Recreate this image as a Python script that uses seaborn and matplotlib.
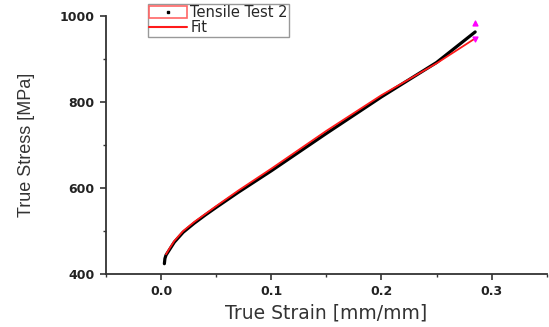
import numpy as np
import pandas as pd
import seaborn as sns
import matplotlib.pyplot as plt
from matplotlib.patches import Rectangle
from matplotlib.lines import Line2D
from matplotlib.legend_handler import HandlerTuple

# test data
strain = [0.003, 0.0035, 0.0045, 0.008, 0.012, 0.02, 0.03, 0.04, 0.05,
          0.07, 0.1, 0.15, 0.2, 0.25, 0.285]
stress = [424, 436, 444, 458, 474, 497, 518, 537, 555,
          590, 640, 727, 812, 892, 963]

# fit curve
fit_strain = [0.0045, 0.008, 0.012, 0.02, 0.03, 0.05, 0.07, 0.1, 0.15, 0.2, 0.25, 0.285]
fit_stress = [446, 461, 477, 500, 521, 558, 594, 645, 733, 816, 890, 948]

# error markers at the end point
err_x = [0.285, 0.285]
err_y = [984, 947]

sns.set_style('ticks')
plt.rcParams['font.family'] = ['Liberation Sans', 'DejaVu Sans']

fig = plt.figure(figsize=(5.49, 3.27), dpi=100)
ax = fig.add_axes([0.193, 0.162, 0.803, 0.789])

df = pd.DataFrame({'x': strain, 'y': stress})
fit = pd.DataFrame({'x': fit_strain, 'y': fit_stress})
sns.lineplot(data=df, x='x', y='y', color='black', lw=2.3, sort=False, ax=ax)
sns.lineplot(data=fit, x='x', y='y', color='#ff1a1a', lw=1.3, sort=False, ax=ax)
ax.scatter(err_x[:1], err_y[:1], marker='^', s=12, color='#ff00ff', zorder=5)
ax.scatter(err_x[1:], err_y[1:], marker='v', s=12, color='#ff00ff', zorder=5)

ax.set_xlim(-0.05, 0.35)
ax.set_ylim(400, 1000)
ax.set_xticks([0.0, 0.1, 0.2, 0.3])
ax.set_xticklabels(['0.0', '0.1', '0.2', '0.3'])
ax.set_xticks([-0.05, 0.05, 0.15, 0.25, 0.35], minor=True)
ax.set_yticks([400, 600, 800, 1000])
ax.set_yticks([500, 700, 900], minor=True)
ax.tick_params(which='major', length=4, width=1.2, direction='out', pad=4,
               colors='#333333', labelcolor='#222222')
ax.tick_params(which='minor', length=2.5, width=1.0, direction='out', colors='#333333')
for lbl in ax.get_xticklabels() + ax.get_yticklabels():
    lbl.set_fontfamily('DejaVu Sans')
    lbl.set_fontweight('bold')
    lbl.set_fontsize(9)
for s in ['left', 'bottom']:
    ax.spines[s].set_linewidth(1.3)
    ax.spines[s].set_color('#333333')
ax.spines['top'].set_visible(False)
ax.spines['right'].set_visible(False)

ax.set_xlabel('True Strain [mm/mm]', fontsize=13.5, family='DejaVu Sans',
              color='#333333', labelpad=4)
ax.set_ylabel('True Stress [MPa]', fontsize=13, color='#333333', labelpad=18)

box = Rectangle((0, 0), 1, 1, facecolor='white', edgecolor='#ff6666', lw=1.2)
dot = Line2D([], [], marker='s', ms=1.5, color='black', ls='none')
fit_h = Line2D([], [], color='#ff1a1a', lw=1.5)
ax.legend([(box, dot), fit_h], ['Tensile Test 2', 'Fit'],
          handler_map={tuple: HandlerTuple(ndivide=1, pad=0)},
          loc='upper left', bbox_to_anchor=(0.095, 1.047),
          prop={'family': 'DejaVu Sans', 'size': 10.5},
          frameon=True, fancybox=False, edgecolor='#999999', framealpha=1,
          handlelength=2.6, handleheight=0.9, borderpad=0.1, labelspacing=0.0,
          handletextpad=0.2, borderaxespad=0)

fig.savefig('out.png', dpi=100)
